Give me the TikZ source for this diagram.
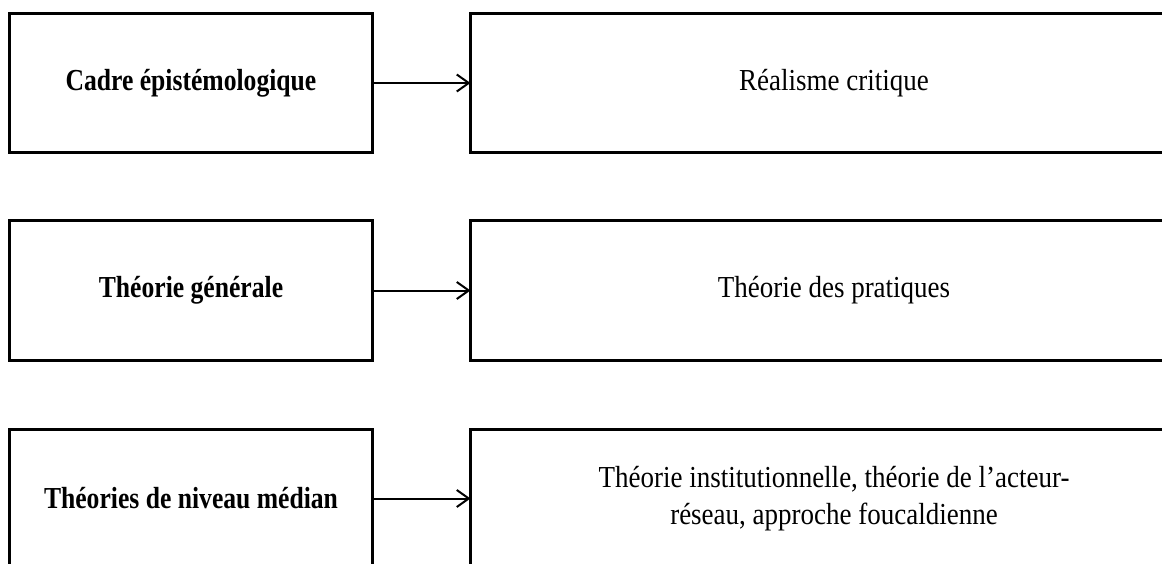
\documentclass[tikz,border=0pt]{standalone}
\usepackage{fontspec}
\setmainfont{Liberation Serif}[FakeStretch=0.885, BoldFeatures={FakeStretch=0.84}]
\usetikzlibrary{arrows.meta}
\tikzset{
  box/.style={draw=black, line width=3pt, rectangle, inner sep=0pt, outer sep=0pt,
    minimum height=139pt, align=center, font=\fontsize{30.5}{37}\selectfont},
  leftbox/.style={box, minimum width=363pt, font=\fontsize{30.5}{37}\selectfont\bfseries},
  rightbox/.style={box, minimum width=727pt},
  conn/.style={draw=black, line width=2pt, -{Straight Barb[length=12pt,width=17pt,line width=2pt]}}
}
\begin{document}
\begin{tikzpicture}[x=1pt,y=-1pt]
\useasboundingbox (0,0) rectangle (1162,564);
\fill[white] (0,0) rectangle (1162,564);
\clip (0,0) rectangle (1162,564);
\node[leftbox]  (l1) at (191,83)    {Cadre épistémologique};
\node[rightbox] (r1) at (834,83)    {Réalisme critique};
\node[leftbox]  (l2) at (191,290.5) {Théorie générale};
\node[rightbox] (r2) at (834,290.5) {Théorie des pratiques};
\node[leftbox]  (l3) at (191,498.5) {Théories de niveau médian};
\node[rightbox] (r3) at (834,498.5) {Théorie institutionnelle,\ théorie de l’acteur-\\réseau, approche foucaldienne};
\draw[conn] (l1.east) -- (r1.west);
\draw[conn] (l2.east) -- (r2.west);
\draw[conn] (l3.east) -- (r3.west);
\end{tikzpicture}
\end{document}
